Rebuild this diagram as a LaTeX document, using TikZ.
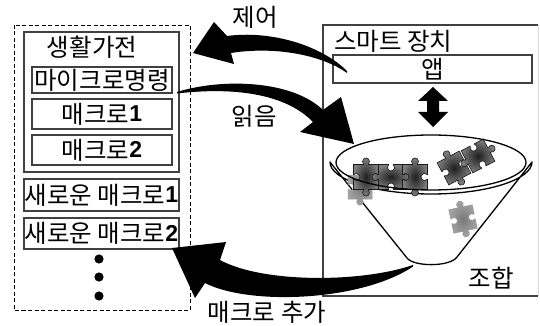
\documentclass[tikz,border=0pt]{standalone}
\usepackage{fontspec}
\setmainfont{Noto Sans CJK KR}
\newfontfamily\latn{Liberation Sans}
\newcommand{\dg}[1]{\raisebox{1.2pt}{\latn\fontsize{23}{24}\selectfont\bfseries #1}}

\begin{document}
\begin{tikzpicture}[x=1pt,y=-1pt,
  lbl/.style={font=\fontsize{24.5}{26}\selectfont, inner sep=0pt},
  box/.style={draw=black!75, line width=1.1pt, inner sep=0pt, font=\fontsize{24.5}{26}\selectfont},
  bigarrow/.style={fill=black, draw=none},
  darkpiece/.style={inner color=black!88, outer color=black!50, draw=black!90, line width=0.6pt},
  lightpiece/.style={inner color=black!52, outer color=black!36, draw=black!40, line width=0.5pt},
  funnelline/.style={draw=black, line width=1.3pt},
  % a jigsaw piece of unit size, centred on the origin
  puzzle/.pic={
    \path[#1] (-0.5,-0.5) -- (-0.1,-0.5) -- (-0.099,-0.521)
        arc[start angle=135,end angle=405,radius=0.14] -- (0.1,-0.5) -- (0.5,-0.5)
      -- (0.5,-0.1) -- (0.479,-0.099)
        arc[start angle=-45,end angle=-315,radius=0.14] -- (0.5,0.1) -- (0.5,0.5)
      -- (0.1,0.5) -- (0.099,0.521)
        arc[start angle=-45,end angle=225,radius=0.14] -- (-0.1,0.5) -- (-0.5,0.5)
      -- (-0.5,0.1) -- (-0.479,0.099)
        arc[start angle=135,end angle=-135,radius=0.14] -- (-0.5,-0.1) -- cycle;
  }
]
\useasboundingbox (0,0) rectangle (540,326);

% ---------- home appliance side ----------
\draw[black, line width=0.8pt, dash pattern=on 4pt off 2.5pt] (14,25) rectangle (190,310);
\node[box, minimum width=155, minimum height=140] (home) at (101.5,102) {};
\node[lbl] (homeT) at (92,47) {생활가전};
\node[box, minimum width=140, minimum height=26] (micro) at (102,80) {마이크로명령};
\node[box, minimum width=140, minimum height=30] (mac1) at (102,114) {매크로\dg{1}};
\node[box, minimum width=140, minimum height=30] (mac2) at (102,150) {매크로\dg{2}};
\node[box, minimum width=155, minimum height=32] (new1) at (101.5,195) {새로운 매크로\dg{1}};
\node[box, minimum width=155, minimum height=31] (new2) at (101.5,233.5) {새로운 매크로\dg{2}};
\foreach \yy [count=\i] in {259,277,296}
  \fill[black] (99,\yy) circle[radius=4.6] coordinate (dot\i);

% ---------- smart device side ----------
\draw[black!75, line width=1.1pt] (538,25) -- (323,25) -- (323,296) -- (538,296);
\draw[black!15, line width=0.8pt] (538,25) -- (538,296);
\node[lbl, anchor=west] (smartT) at (334,41) {스마트 장치};
\node[box, minimum width=199, minimum height=28] (app) at (432.5,69) {앱};

% double-headed arrow between app and funnel
\coordinate (dblTop) at (433,87);
\coordinate (dblBot) at (433,127);
\fill[black] (dblTop) -- (448,101) -- (439,101) -- (439,112) -- (448,112) -- (dblBot)
  -- (418,112) -- (427,112) -- (427,101) -- (418,101) -- cycle;

% funnel body
\draw[funnelline, line join=round] (330,162) arc[start angle=180,end angle=0,x radius=101,y radius=32]
  -- (457,257) .. controls (450,267) and (414,267) .. (407,258) -- cycle;

% puzzle pieces inside the funnel
\pic at (360,187) [scale=24] {puzzle=lightpiece};
\pic at (366,177) [scale=25] {puzzle=darkpiece};
\pic at (391,177) [scale=25, rotate=90] {puzzle=darkpiece};
\pic at (415,177) [scale=25] {puzzle=darkpiece};
\pic at (454,168) [scale=25, rotate=28] {puzzle=darkpiece};
\pic at (478,156) [scale=25, rotate=-62] {puzzle=darkpiece};
\pic at (463,219) [scale=24, rotate=12] {puzzle=lightpiece};

% opening of the funnel
\draw[funnelline] (431,162.5) ellipse[x radius=95,y radius=27.5];

\node[lbl] (combT) at (491,278) {조합};

% ---------- curved arrows ----------
% control: app -> appliances
\coordinate (ctlTail) at (347,71);
\coordinate (ctlTip) at (193,53);
\fill[bigarrow] (ctlTail) .. controls (322,46) and (272,30) .. (227,36)
  -- (214,22) -- (ctlTip) -- (234,64) -- (231,53)
  .. controls (275,46) and (322,55) .. (347,73) -- cycle;
\node[lbl] (ctlT) at (255,17) {제어};

% read: micro instructions -> funnel
\coordinate (rdTail) at (177,92);
\coordinate (rdTip) at (354,144);
\fill[bigarrow] (rdTail) .. controls (222,78) and (292,80) .. (323,110)
  -- (341,97) -- (rdTip) -- (300,132) -- (313,122)
  .. controls (285,93) and (232,87) .. (177,93.5) -- cycle;
\node[lbl] (rdT) at (254,116) {읽음};

% add macro: funnel -> new macros
\coordinate (addTail) at (413,265);
\coordinate (addTip) at (172,248);
\fill[bigarrow] (addTail) .. controls (360,283) and (262,283) .. (220,260)
  -- (226,242) -- (addTip) -- (195,298) -- (205,283)
  .. controls (250,306) and (362,301) .. (413,266.5) -- cycle;
\node[lbl] (addT) at (267,312) {매크로 추가};

\end{tikzpicture}
\end{document}
